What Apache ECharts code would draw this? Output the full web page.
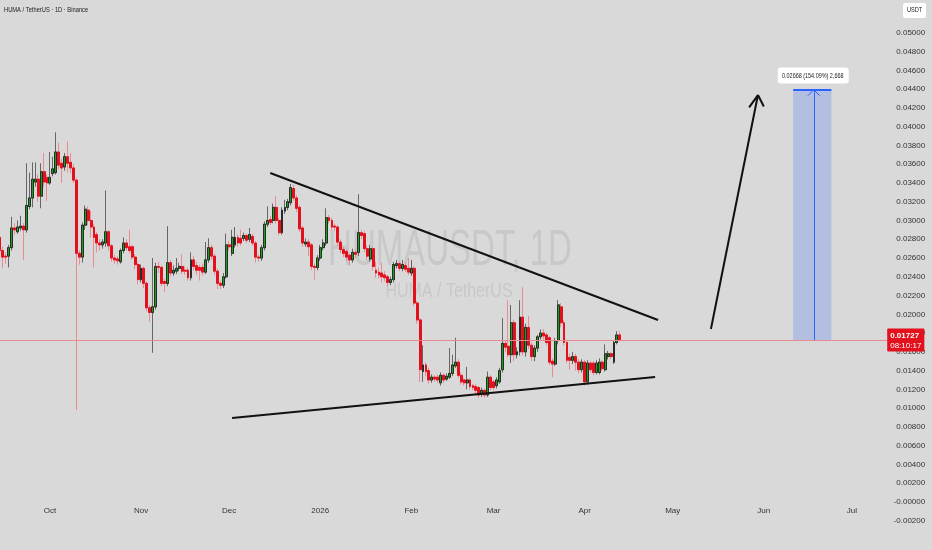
<!DOCTYPE html>
<html><head><meta charset="utf-8">
<script src="https://cdn.jsdelivr.net/npm/echarts@6/dist/echarts.min.js"></script>
<style>html,body{margin:0;padding:0;background:#d9d9d9;}#c{width:932px;height:550px;}</style>
</head><body><div id="c"></div>
<script>
const startDate = '2025-09-14';
const dayCount = 303;
const tickDates = ['2025-10-01','2025-11-01','2025-12-01','2026-01-01','2026-02-01','2026-03-01','2026-04-01','2026-05-01','2026-06-01','2026-07-01'];
const tickLabels = ['Oct','Nov','Dec','2026','Feb','Mar','Apr','May','Jun','Jul'];

const openP = [0.0282,0.0268,0.0262,0.0262,0.0271,0.0292,0.0288,0.0292,0.0294,0.0290,
0.0315,0.0324,0.0341,0.0344,0.0326,0.0352,0.0346,0.0340,0.0350,0.0351,
0.0373,0.0361,0.0357,0.0368,0.0362,0.0356,0.0343,0.0265,0.0261,0.0295,
0.0311,0.0300,0.0293,0.0285,0.0276,0.0274,0.0276,0.0288,0.0273,0.0260,
0.0259,0.0256,0.0268,0.0276,0.0272,0.0272,0.0261,0.0253,0.0237,0.0249,
0.0233,0.0207,0.0202,0.0208,0.0251,0.0250,0.0235,0.0233,0.0255,0.0244,
0.0246,0.0249,0.0251,0.0247,0.0247,0.0239,0.0258,0.0252,0.0250,0.0250,
0.0245,0.0258,0.0271,0.0262,0.0246,0.0233,0.0231,0.0240,0.0274,0.0265,
0.0274,0.0282,0.0281,0.0281,0.0284,0.0280,0.0283,0.0276,0.0261,0.0260,
0.0271,0.0296,0.0301,0.0300,0.0314,0.0300,0.0287,0.0310,0.0314,0.0319,
0.0334,0.0324,0.0314,0.0292,0.0275,0.0277,0.0274,0.0251,0.0250,0.0260,
0.0271,0.0276,0.0303,0.0300,0.0294,0.0293,0.0277,0.0269,0.0267,0.0263,
0.0258,0.0266,0.0266,0.0287,0.0286,0.0270,0.0259,0.0270,0.0247,0.0245,
0.0244,0.0242,0.0240,0.0234,0.0237,0.0252,0.0254,0.0249,0.0252,0.0249,
0.0244,0.0249,0.0212,0.0194,0.0139,0.0146,0.0140,0.0130,0.0133,0.0133,
0.0127,0.0135,0.0131,0.0133,0.0137,0.0145,0.0149,0.0135,0.0130,0.0127,
0.0130,0.0124,0.0123,0.0122,0.0115,0.0119,0.0114,0.0133,0.0128,0.0124,
0.0128,0.0141,0.0169,0.0166,0.0157,0.0191,0.0157,0.0160,0.0197,0.0160,
0.0186,0.0167,0.0155,0.0164,0.0176,0.0180,0.0178,0.0175,0.0150,0.0147,
0.0172,0.0208,0.0191,0.0170,0.0154,0.0151,0.0155,0.0149,0.0141,0.0149,
0.0128,0.0148,0.0148,0.0138,0.0138,0.0149,0.0141,0.0155,0.0158,0.0149,
0.0170,0.0178];

const closeP = [0.0268,0.0261,0.0261,0.0271,0.0292,0.0290,0.0293,0.0294,0.0290,0.0316,
0.0324,0.0344,0.0344,0.0326,0.0352,0.0341,0.0340,0.0346,0.0355,0.0373,
0.0359,0.0356,0.0368,0.0361,0.0356,0.0343,0.0265,0.0261,0.0295,0.0312,
0.0300,0.0293,0.0282,0.0276,0.0274,0.0277,0.0288,0.0273,0.0260,0.0258,
0.0257,0.0268,0.0276,0.0271,0.0268,0.0261,0.0253,0.0237,0.0249,0.0233,
0.0207,0.0202,0.0208,0.0251,0.0250,0.0233,0.0233,0.0255,0.0244,0.0247,
0.0249,0.0251,0.0246,0.0246,0.0239,0.0258,0.0251,0.0247,0.0247,0.0245,
0.0258,0.0271,0.0262,0.0246,0.0233,0.0231,0.0240,0.0274,0.0272,0.0282,
0.0282,0.0276,0.0276,0.0284,0.0279,0.0285,0.0276,0.0261,0.0260,0.0271,
0.0296,0.0300,0.0298,0.0314,0.0300,0.0287,0.0311,0.0314,0.0320,0.0335,
0.0324,0.0313,0.0291,0.0276,0.0277,0.0272,0.0251,0.0250,0.0260,0.0271,
0.0276,0.0303,0.0300,0.0293,0.0293,0.0277,0.0269,0.0265,0.0261,0.0258,
0.0266,0.0264,0.0287,0.0284,0.0270,0.0262,0.0270,0.0251,0.0244,0.0242,
0.0240,0.0239,0.0234,0.0237,0.0253,0.0254,0.0249,0.0253,0.0248,0.0245,
0.0249,0.0212,0.0194,0.0141,0.0146,0.0139,0.0130,0.0133,0.0131,0.0130,
0.0135,0.0130,0.0134,0.0137,0.0146,0.0149,0.0135,0.0128,0.0127,0.0130,
0.0123,0.0122,0.0119,0.0114,0.0119,0.0114,0.0133,0.0122,0.0122,0.0130,
0.0140,0.0169,0.0165,0.0157,0.0191,0.0157,0.0160,0.0197,0.0160,0.0186,
0.0167,0.0155,0.0164,0.0176,0.0180,0.0177,0.0170,0.0149,0.0147,0.0172,
0.0210,0.0191,0.0170,0.0151,0.0151,0.0155,0.0149,0.0141,0.0149,0.0128,
0.0148,0.0141,0.0138,0.0148,0.0149,0.0142,0.0158,0.0158,0.0155,0.0170,
0.0178,0.0173];

const highP = [0.0290,0.0272,0.0266,0.0274,0.0304,0.0297,0.0300,0.0305,0.0297,0.0361,
0.0351,0.0362,0.0362,0.0349,0.0361,0.0372,0.0349,0.0373,0.0368,0.0394,
0.0383,0.0366,0.0372,0.0384,0.0372,0.0360,0.0345,0.0268,0.0298,0.0316,
0.0315,0.0310,0.0296,0.0288,0.0280,0.0280,0.0332,0.0290,0.0275,0.0263,
0.0262,0.0270,0.0282,0.0280,0.0290,0.0274,0.0264,0.0255,0.0253,0.0251,
0.0235,0.0210,0.0260,0.0255,0.0256,0.0252,0.0238,0.0294,0.0258,0.0252,
0.0260,0.0255,0.0264,0.0251,0.0250,0.0266,0.0262,0.0256,0.0253,0.0254,
0.0277,0.0281,0.0274,0.0264,0.0249,0.0236,0.0244,0.0286,0.0278,0.0290,
0.0293,0.0285,0.0290,0.0287,0.0286,0.0292,0.0286,0.0278,0.0264,0.0274,
0.0299,0.0315,0.0305,0.0318,0.0326,0.0303,0.0314,0.0322,0.0323,0.0339,
0.0338,0.0327,0.0316,0.0294,0.0281,0.0280,0.0276,0.0254,0.0263,0.0274,
0.0280,0.0313,0.0306,0.0303,0.0297,0.0295,0.0280,0.0272,0.0270,0.0265,
0.0270,0.0269,0.0328,0.0290,0.0289,0.0273,0.0274,0.0272,0.0256,0.0250,
0.0255,0.0246,0.0242,0.0240,0.0256,0.0258,0.0256,0.0258,0.0255,0.0260,
0.0258,0.0251,0.0214,0.0196,0.0167,0.0149,0.0143,0.0136,0.0135,0.0136,
0.0138,0.0137,0.0137,0.0164,0.0157,0.0175,0.0152,0.0138,0.0132,0.0144,
0.0132,0.0126,0.0126,0.0124,0.0122,0.0121,0.0139,0.0135,0.0130,0.0133,
0.0143,0.0196,0.0172,0.0215,0.0210,0.0194,0.0165,0.0215,0.0229,0.0190,
0.0198,0.0170,0.0167,0.0178,0.0184,0.0184,0.0180,0.0177,0.0153,0.0175,
0.0215,0.0212,0.0194,0.0173,0.0158,0.0160,0.0158,0.0152,0.0152,0.0151,
0.0151,0.0150,0.0150,0.0151,0.0153,0.0151,0.0168,0.0161,0.0160,0.0172,
0.0182,0.0182];

const lowP = [0.0262,0.0249,0.0254,0.0250,0.0268,0.0285,0.0286,0.0289,0.0258,0.0287,
0.0312,0.0314,0.0336,0.0320,0.0313,0.0336,0.0321,0.0338,0.0347,0.0349,
0.0355,0.0340,0.0353,0.0351,0.0350,0.0340,0.0098,0.0253,0.0255,0.0290,
0.0295,0.0282,0.0250,0.0266,0.0268,0.0270,0.0272,0.0268,0.0256,0.0254,
0.0253,0.0254,0.0265,0.0268,0.0265,0.0258,0.0248,0.0232,0.0234,0.0228,
0.0203,0.0192,0.0159,0.0205,0.0244,0.0230,0.0224,0.0230,0.0240,0.0241,
0.0243,0.0246,0.0243,0.0242,0.0236,0.0236,0.0247,0.0242,0.0236,0.0241,
0.0243,0.0255,0.0258,0.0242,0.0227,0.0227,0.0228,0.0238,0.0268,0.0262,
0.0271,0.0272,0.0273,0.0278,0.0276,0.0277,0.0273,0.0255,0.0256,0.0257,
0.0268,0.0293,0.0295,0.0297,0.0297,0.0284,0.0285,0.0307,0.0311,0.0316,
0.0321,0.0309,0.0288,0.0272,0.0272,0.0262,0.0247,0.0237,0.0247,0.0257,
0.0268,0.0273,0.0297,0.0289,0.0289,0.0273,0.0265,0.0261,0.0257,0.0252,
0.0255,0.0260,0.0262,0.0280,0.0266,0.0258,0.0256,0.0247,0.0239,0.0238,
0.0234,0.0235,0.0230,0.0231,0.0234,0.0249,0.0246,0.0246,0.0245,0.0242,
0.0241,0.0209,0.0190,0.0128,0.0128,0.0134,0.0126,0.0127,0.0128,0.0127,
0.0124,0.0127,0.0129,0.0131,0.0134,0.0143,0.0132,0.0125,0.0124,0.0120,
0.0120,0.0119,0.0115,0.0111,0.0112,0.0111,0.0112,0.0119,0.0119,0.0121,
0.0126,0.0138,0.0160,0.0154,0.0148,0.0150,0.0153,0.0156,0.0156,0.0155,
0.0163,0.0150,0.0150,0.0160,0.0173,0.0173,0.0167,0.0146,0.0133,0.0145,
0.0168,0.0186,0.0167,0.0148,0.0141,0.0147,0.0140,0.0137,0.0138,0.0124,
0.0125,0.0138,0.0135,0.0136,0.0136,0.0140,0.0139,0.0152,0.0152,0.0147,
0.0168,0.0171];

const lastPrice = 0.01727;
const lastTime = '08:10:17';
const upperTrend = [['2025-12-15', 0.03506], ['2026-04-26', 0.01939]];
const lowerTrend = [['2025-12-02', 0.00895], ['2026-04-25', 0.01332]];
const projArrow = [['2026-05-14', 0.01843], ['2026-05-30', 0.04337]];
const projArrowHead = [['2026-05-27', 0.04205], ['2026-05-30', 0.04337], ['2026-06-01', 0.04215]];
const measureStart = ['2026-06-11', 0.01727];
const measureEnd = ['2026-06-24', 0.04395];
const measureMid = '2026-06-18';
const measureHead = [['2026-06-16', 0.04330], ['2026-06-18', 0.04395], ['2026-06-20', 0.04330]];
const measureLabel = '0.02668 (154.09%) 2,668';

const cats = [];
const d0 = new Date(startDate + 'T00:00:00Z');
for (let i = 0; i < dayCount; i++) {
  cats.push(new Date(d0.getTime() + i * 86400000).toISOString().slice(0, 10));
}
const wickData = openP.map((o, i) => [o, closeP[i], lowP[i], highP[i]]);
const bodyData = openP.map((o, i) => [o, closeP[i], Math.min(o, closeP[i]), Math.max(o, closeP[i])]);

function seg(a, b, style) {
  return [{ coord: a, lineStyle: style }, { coord: b }];
}
const blackLine = { color: '#111', width: 2, type: 'solid' };
const blueLine = { color: '#2962ff', width: 1, type: 'solid' };
const font = "'Liberation Sans',Arial,sans-serif";

const priceLine = [
  { coord: [cats[0], lastPrice], lineStyle: { color: '#e98a92', width: 1, type: 'solid' } },
  { coord: [cats[cats.length - 1], lastPrice],
    label: { show: true, position: 'end', distance: 0,
      formatter: '{a|' + lastPrice.toFixed(5) + '}\n{b|' + lastTime + '}',
      backgroundColor: '#e3101e', padding: [2, 3, 1, 3], borderRadius: 1,
      rich: { a: { color: '#fff', fontSize: 8, fontWeight: 'bold', lineHeight: 10, fontFamily: font },
              b: { color: '#fff', fontSize: 8, lineHeight: 10, fontFamily: font } } } }
];

const baseGraphic = [
  { id: 'wm1', type: 'text', x: 450, y: 251, scaleX: 0.66, z: -1, silent: true,
    style: { text: 'HUMAUSDT, 1D', fontSize: 50, fill: '#c8c8c8', textAlign: 'center', textVerticalAlign: 'middle', fontFamily: font } },
  { id: 'wm2', type: 'text', x: 449, y: 291, scaleX: 0.8, z: -1, silent: true,
    style: { text: 'HUMA / TetherUS', fontSize: 20, fill: '#c8c8c8', textAlign: 'center', textVerticalAlign: 'middle', fontFamily: font } },
  { id: 'title', type: 'text', x: 4, y: 10, scaleX: 0.72, silent: true,
    style: { text: 'HUMA / TetherUS · 1D · Binance', fontSize: 8, fill: '#222', textAlign: 'left', textVerticalAlign: 'middle', fontFamily: font } },
  { id: 'unitBox', type: 'rect', shape: { x: 903, y: 3, width: 23, height: 15, r: 2 }, style: { fill: '#fff' }, silent: true },
  { id: 'unitText', type: 'text', x: 914.5, y: 10.5, scaleX: 0.8, silent: true,
    style: { text: 'USDT', fontSize: 7, fill: '#222', textAlign: 'center', textVerticalAlign: 'middle', fontFamily: font } }
];

const chart = echarts.init(document.getElementById('c'), null, { renderer: 'canvas' });
chart.setOption({
  animation: false,
  backgroundColor: '#d9d9d9',
  grid: { left: 0, right: 44.8, top: 0, bottom: 10.5, containLabel: false },
  xAxis: {
    type: 'category', data: cats, boundaryGap: false, offset: -36,
    axisLine: { show: false }, axisTick: { show: false }, splitLine: { show: false },
    axisLabel: {
      interval: (idx, val) => tickDates.indexOf(val) >= 0,
      formatter: val => { const k = tickDates.indexOf(val); return k >= 0 ? tickLabels[k] : ''; },
      fontSize: 8, color: '#333', margin: 3, fontFamily: font
    }
  },
  yAxis: {
    type: 'value', position: 'right', min: -0.004, max: 0.0535, interval: 0.002, scale: false,
    axisLine: { show: false }, axisTick: { show: false }, splitLine: { show: false },
    axisLabel: {
      margin: 38, align: 'right', fontSize: 8, color: '#333', fontFamily: font,
      formatter: v => (v > 0.0505 || v < -0.003) ? '' : (Math.abs(v) < 1e-9 ? '-0.00000' : v.toFixed(5))
    }
  },
  series: [
    {
      type: 'candlestick', name: 'wicks', data: wickData, barWidth: 2.4, silent: true,
      itemStyle: { color: 'rgba(0,0,0,0)', color0: 'rgba(0,0,0,0)', borderColor: '#666', borderColor0: '#ea8a92', borderWidth: 1 },
      markArea: {
        silent: true,
        data: [[{ coord: measureStart, itemStyle: { color: 'rgba(41,98,255,0.22)' } }, { coord: measureEnd }]]
      },
      markLine: {
        silent: true, symbol: ['none', 'none'], label: { show: false },
        data: [
          priceLine,
          seg(upperTrend[0], upperTrend[1], blackLine),
          seg(lowerTrend[0], lowerTrend[1], blackLine),
          seg(projArrow[0], projArrow[1], blackLine),
          seg(projArrowHead[0], projArrowHead[1], blackLine),
          seg(projArrowHead[1], projArrowHead[2], blackLine),
          seg([measureStart[0], measureEnd[1]], measureEnd, { color: '#2962ff', width: 2, type: 'solid' }),
          seg([measureMid, measureStart[1]], [measureMid, measureEnd[1]], blueLine),
          seg(measureHead[0], measureHead[1], blueLine),
          seg(measureHead[1], measureHead[2], blueLine)
        ]
      }
    },
    {
      type: 'candlestick', name: 'bodies', data: bodyData, barWidth: 2.4,
      itemStyle: { color: '#14a514', color0: '#e3101e', borderColor: '#2a2a2a', borderColor0: '#e3101e', borderWidth: 1 }
    }
  ],
  graphic: baseGraphic
});

// measurement label placed above the measured box, at the box's data position
const p = chart.convertToPixel({ seriesIndex: 0 }, [measureMid, measureEnd[1]]);
chart.setOption({
  graphic: baseGraphic.concat([
    { id: 'mBox', type: 'rect', shape: { x: p[0] - 36, y: p[1] - 22, width: 71, height: 16, r: 3 }, style: { fill: '#fff' }, silent: true },
    { id: 'mText', type: 'text', x: p[0] - 1, y: p[1] - 14, scaleX: 0.68, silent: true,
      style: { text: measureLabel, fontSize: 8, fill: '#222', textAlign: 'center', textVerticalAlign: 'middle', fontFamily: font } }
  ])
});
</script></body></html>
